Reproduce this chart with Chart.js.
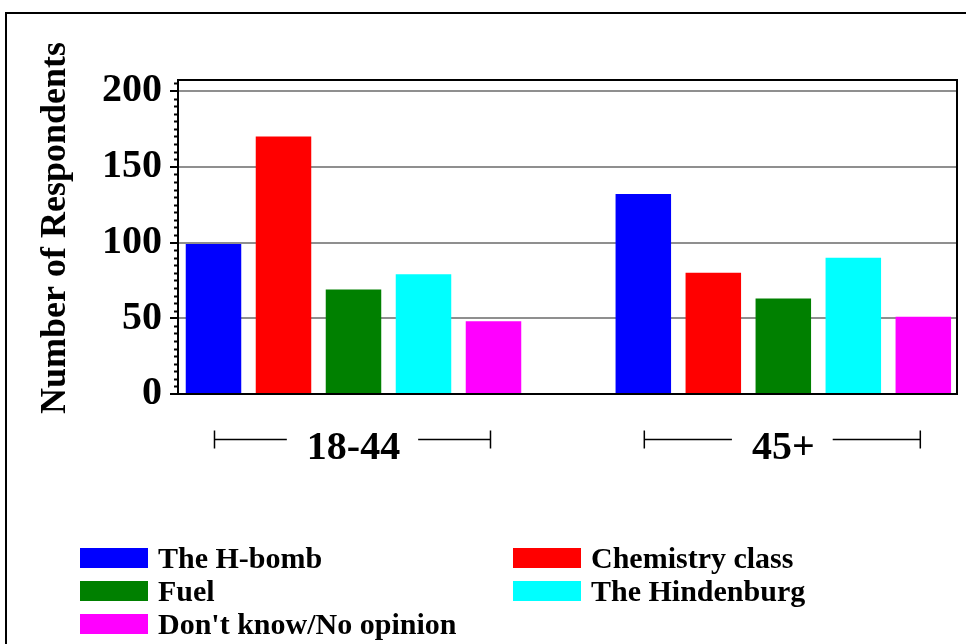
<!DOCTYPE html>
<html>
<head>
<meta charset="utf-8">
<title>Number of Respondents</title>
<script src="https://cdn.jsdelivr.net/npm/chart.js@4.4.1/dist/chart.umd.min.js"></script>
<style>
  body { margin: 0; background: #fff; }
  #chartBox { width: 966px; height: 644px; }
</style>
</head>
<body>
<div id="chartBox"><canvas id="respChart" width="966" height="644"></canvas></div>
<script>
// data
const ageGroups = ['18-44', '45+'];
const seriesNames = ['The H-bomb', 'Chemistry class', 'Fuel', 'The Hindenburg', "Don't know/No opinion"];
const hBomb = [99, 132];
const chemistryClass = [170, 80];
const fuel = [69, 63];
const hindenburg = [79, 90];
const noOpinion = [48, 51];
const yTicks = [0, 50, 100, 150, 200];
const seriesColors = ['#0000ff', '#ff0000', '#008000', '#00ffff', '#ff00ff'];

const allSeries = [hBomb, chemistryClass, fuel, hindenburg, noOpinion];
const FONT = '"Liberation Serif", "Times New Roman", serif';

// white page + outer frame, plot frame, minor ticks, group brackets, legend
const decorPlugin = {
  id: 'decor',
  beforeDraw(chart) {
    const ctx = chart.ctx;
    ctx.save();
    ctx.fillStyle = '#fff';
    ctx.fillRect(0, 0, chart.width, chart.height);
    ctx.strokeStyle = '#000';
    ctx.lineWidth = 2;
    ctx.strokeRect(6, 13, 1100, 1100);
    ctx.restore();
  },
  afterDraw(chart) {
    const ctx = chart.ctx;
    const area = chart.chartArea;
    const y = chart.scales.y;
    const x = chart.scales.x;
    ctx.save();

    // plot frame
    ctx.strokeStyle = '#000';
    ctx.lineWidth = 2;
    ctx.strokeRect(area.left, area.top, area.right - area.left, area.bottom - area.top);

    // minor ticks every 5
    ctx.lineWidth = 2;
    ctx.beginPath();
    for (let v = 5; v < y.max; v += 5) {
      if (v % 50 === 0) continue;
      const py = Math.round(y.getPixelForValue(v)) + 0.5;
      ctx.moveTo(area.left - 4, py);
      ctx.lineTo(area.left, py);
    }
    ctx.stroke();

    // brackets around the group labels
    ctx.font = 'bold 40px ' + FONT;
    ctx.lineWidth = 1.5;
    const by = 439.5;
    ageGroups.forEach((g, i) => {
      const px = x.getPixelForValue(i) - 1;
      const w = ctx.measureText(g).width;
      ctx.beginPath();
      ctx.moveTo(px - 138, by);
      ctx.lineTo(px - w / 2 - 19, by);
      ctx.moveTo(px + w / 2 + 19, by);
      ctx.lineTo(px + 138, by);
      ctx.moveTo(px - 138, by - 9);
      ctx.lineTo(px - 138, by + 9);
      ctx.moveTo(px + 138, by - 9);
      ctx.lineTo(px + 138, by + 9);
      ctx.stroke();
    });

    // y title
    ctx.fillStyle = '#000';
    ctx.font = 'bold 36px ' + FONT;
    ctx.textAlign = 'center';
    ctx.textBaseline = 'alphabetic';
    ctx.translate(65, 228);
    ctx.rotate(-Math.PI / 2);
    ctx.fillText('Number of Respondents', 0, 0);
    ctx.setTransform(1, 0, 0, 1, 0, 0);

    // legend, two columns
    ctx.font = 'bold 30px ' + FONT;
    ctx.textAlign = 'left';
    chart.data.datasets.forEach((ds, i) => {
      const col = i % 2;
      const row = Math.floor(i / 2);
      const sx = col === 0 ? 80 : 513;
      const sy = 548 + row * 33;
      ctx.fillStyle = ds.backgroundColor;
      ctx.fillRect(sx, sy, 68, 20);
      ctx.fillStyle = '#000';
      ctx.fillText(ds.label, sx + 78, sy + 20);
    });
    ctx.restore();
  }
};

const ctx = document.getElementById('respChart').getContext('2d');
const respChart = new Chart(ctx, {
  type: 'bar',
  data: {
    datasets: allSeries.map((vals, i) => ({
      label: seriesNames[i],
      data: vals.map((v, j) => ({ x: j, y: v })),
      backgroundColor: seriesColors[i],
      borderWidth: 0,
      categoryPercentage: 0.8143,
      barPercentage: 0.793
    }))
  },
  options: {
    responsive: false,
    devicePixelRatio: 1,
    animation: false,
    layout: { padding: { left: 0, right: 9, top: 80, bottom: 0 } },
    plugins: {
      legend: { display: false },
      tooltip: { enabled: false }
    },
    scales: {
      x: {
        type: 'linear',
        offset: false,
        min: -0.4083,
        max: 1.4041,
        afterBuildTicks: scale => { scale.ticks = ageGroups.map((g, i) => ({ value: i })); },
        afterFit: scale => { scale.height = 250; },
        grid: { display: false, offset: false },
        border: { display: false },
        ticks: {
          autoSkip: false,
          maxRotation: 0,
          padding: 23,
          color: '#000',
          font: { family: FONT, size: 40, weight: 'bold' },
          callback: v => ageGroups[v]
        }
      },
      y: {
        min: 0,
        max: 207.3,
        afterFit: scale => { scale.width = 178; },
        afterBuildTicks: scale => { scale.ticks = yTicks.map(v => ({ value: v })); },
        grid: {
          color: '#8f8f8f',
          lineWidth: 2,
          tickColor: '#000',
          tickLength: 8,
          tickWidth: 2
        },
        border: { color: '#000', width: 2 },
        ticks: {
          padding: 8,
          color: '#000',
          font: { family: FONT, size: 40, weight: 'bold' }
        }
      }
    }
  },
  plugins: [decorPlugin]
});
</script>
</body>
</html>
